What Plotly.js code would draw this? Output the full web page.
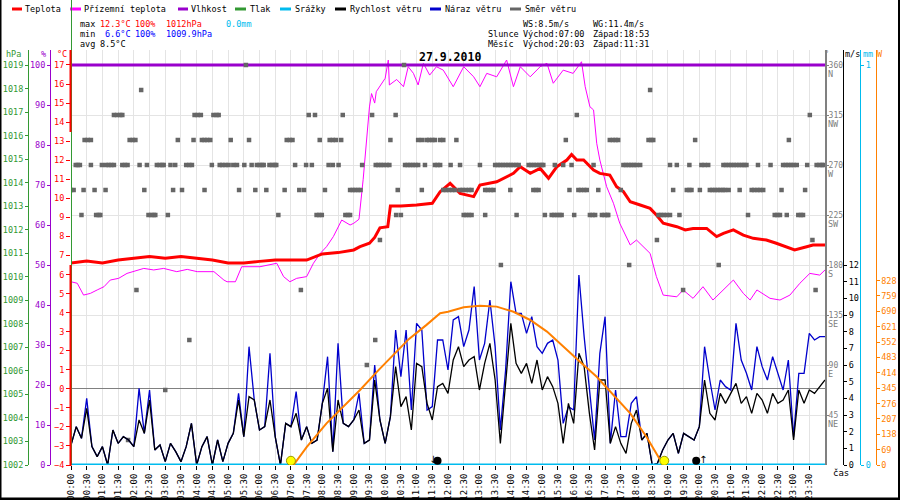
<!DOCTYPE html>
<html><head><meta charset="utf-8">
<script src="https://cdn.plot.ly/plotly-3.0.1.min.js"></script>
<style>html,body{margin:0;padding:0;background:#fff}#chart{width:900px;height:500px}</style>
</head><body><div id="chart"></div>
<script>
// ---------------- DATA ----------------
const timeLabels = ['00:00','00:30','01:00','01:30','02:00','02:30','03:00','03:30','04:00','04:30','05:00','05:30',
  '06:00','06:30','07:00','07:30','08:00','08:30','09:00','09:30','10:00','10:30','11:00','11:30',
  '12:00','12:30','13:00','13:30','14:00','14:30','15:00','15:30','16:00','16:30','17:00','17:30',
  '18:00','18:30','19:00','19:30','20:00','20:30','21:00','21:30','22:00','22:30','23:00','23:30'];

const tempTimes = ['00:00','00:30','01:00','01:30','02:00','02:30','03:00','03:30','04:00','04:30','05:00','05:30',
  '06:00','06:30','07:00','07:30','08:00','08:30','09:00','09:12','09:30','09:40','09:50','10:05','10:10','10:30',
  '11:00','11:30','11:45','12:04','12:23','12:49','13:01','13:33','14:05','14:18','14:37','14:56','15:12','15:28',
  '15:47','15:56','16:06','16:19','16:38','16:50','17:09','17:22','17:35','17:48','18:07','18:26','18:38','18:51',
  '19:17','19:33','19:48','20:14','20:33','20:46','21:05','21:24','21:43','22:08','22:27','22:46','23:02','23:25',
  '23:37','24:00'];
const tempValues = [6.6,6.71,6.6,6.76,6.85,6.94,6.85,6.94,6.85,6.76,6.6,6.6,
  6.69,6.76,6.76,6.76,7.08,7.15,7.29,7.46,7.64,7.95,8.45,8.51,9.6,9.6,
  9.65,9.74,10.35,10.79,10.26,10.09,10.7,10.87,11.31,11.66,11.31,11.57,11.05,11.66,
  12.01,12.3,12.01,12.01,11.49,11.31,11.22,10.61,10.35,9.82,9.65,9.47,9.12,8.69,
  8.51,8.34,8.42,8.42,7.99,8.16,8.34,8.07,7.9,7.81,7.64,7.46,7.29,7.46,
  7.55,7.55];

const groundTimes = ['00:00','00:12','00:24','00:37','00:50','01:03','01:15','01:31','01:47','02:00','02:19','02:38',
  '02:57','03:22','03:42','04:01','04:33','04:52','04:58','05:14','05:26','06:01','06:33','06:46','06:58','07:11',
  '07:30','07:43','07:56','08:08','08:21','08:37','08:53','09:00','09:10','09:18','09:24','09:30','09:34','09:40',
  '09:43','09:52','10:00','10:06','10:08','10:22','10:35','10:44','10:54','11:03','11:13','11:25','11:38','11:51',
  '12:10','12:30','12:49','13:01','13:14','13:33','13:52','14:05','14:18','14:37','14:56','15:09','15:21','15:40',
  '15:59','16:15','16:22','16:31','16:38','16:44','16:50','17:03','17:16','17:28','17:48','18:00','18:13','18:26',
  '18:38','18:51','19:17','19:29','19:48','20:07','20:26','20:46','21:05','21:24','21:37','21:50','22:15','22:34',
  '22:53','23:12','23:31','23:50','24:00'];
const groundValues = [5.62,5.54,4.92,5.01,5.19,5.36,5.71,5.8,6.06,6.15,6.32,6.24,
  6.32,6.15,6.27,6.15,6.15,5.71,5.62,5.62,6.41,6.41,6.59,5.89,5.62,5.8,
  5.89,6.59,7.11,7.46,7.99,8.86,8.6,8.69,8.9,11.0,13.0,14.8,15.5,15.0,
  15.6,15.95,16.3,17.26,15.95,16.24,15.86,16.91,16.56,15.95,17.09,16.47,16.91,16.73,
  15.86,16.91,16.38,15.86,16.56,16.38,17.26,15.86,16.91,16.38,16.91,17.09,16.04,16.73,
  16.56,17.17,15.86,14.81,14.64,12.89,12.01,10.61,9.74,8.69,7.55,7.81,7.46,7.11,
  5.89,4.92,4.83,5.19,4.75,5.36,4.66,5.19,5.71,5.01,4.66,5.19,4.75,4.66,
  4.92,5.54,6.06,5.97,6.24];

const humidityTimes = ['00:00','06:00','12:00','18:00','24:00'];
const humidityValues = [100,100,100,100,100];

const pressureTimes = [];   // pressure line not visible in the picture
const pressureValues = [];

const precipTimes = ['00:00','12:00','24:00'];
const precipValues = [0,0,0];

const windStepMin = 10;
const windSpeed = [
  1.2,2.3,1.6,3.4,1.1,0.5,1.1,0.0,2.1,1.3,
  1.7,1.5,1.1,2.7,1.9,3.9,0.9,1.2,0.2,1.3,
  0.8,0.2,1.1,2.5,0.0,1.1,1.7,0.0,1.5,0.2,
  1.3,1.9,3.9,1.7,4.1,3.9,2.1,2.3,3.9,1.7,
  0.0,2.5,2.3,3.1,1.5,2.3,1.3,1.5,3.7,4.6,
  0.8,3.9,2.5,2.3,2.7,3.3,1.3,1.5,5.1,2.7,
  1.3,2.9,5.9,3.5,4.1,2.1,6.1,5.9,3.7,2.7,
  4.7,4.9,4.3,6.3,7.1,5.9,6.3,6.5,4.5,6.1,
  7.3,5.1,1.3,5.1,8.5,6.1,5.5,6.1,4.9,6.3,
  4.5,5.3,4.7,3.7,1.3,3.7,2.5,6.7,5.9,3.1,
  0.9,5.1,5.1,1.3,2.3,1.3,0.7,2.5,3.3,1.5,
  1.9,0.0,0.1,0.9,1.5,1.9,0.7,1.9,1.7,1.5,
  2.3,5.1,3.1,2.7,4.3,3.7,4.3,4.9,3.7,4.1,
  3.1,4.3,3.9,3.1,4.3,3.7,3.9,4.5,1.5,4.5,
  3.7,4.5,4.3,4.7,5.1];
const windGust = [
  1.2,2.3,1.6,4.0,1.1,0.5,1.1,0.0,2.1,1.3,
  1.7,1.5,1.1,4.6,1.9,4.5,0.9,1.2,0.2,1.3,
  0.8,0.2,1.1,2.5,0.0,1.1,1.7,0.0,1.5,0.2,
  1.3,1.9,4.3,1.7,7.1,3.9,2.1,2.3,6.7,1.7,
  0.0,2.5,2.3,4.4,1.5,2.3,1.3,1.5,3.7,6.5,
  0.8,7.3,2.5,2.3,2.7,4.3,1.3,1.5,6.0,2.7,
  1.3,2.9,8.1,5.3,8.1,3.3,8.5,8.1,3.3,3.5,
  7.5,7.5,5.7,8.7,8.9,7.1,8.1,10.7,6.3,7.3,
  9.9,7.1,2.1,5.7,11.0,9.1,9.1,7.9,8.9,7.1,
  6.7,7.3,7.5,6.3,2.5,3.5,3.3,11.4,7.7,4.5,
  1.5,6.7,8.9,1.3,4.5,1.7,1.7,3.7,4.1,1.5,
  1.9,0.0,0.1,0.9,1.5,1.9,0.7,1.9,1.7,1.5,
  2.3,7.1,5.1,3.3,5.1,4.7,4.5,8.5,6.3,5.5,
  4.5,7.1,5.9,5.1,6.5,5.5,4.5,6.3,1.7,5.5,
  5.5,7.9,7.5,7.7,7.7];

// wind direction samples (minute of day) grouped by compass level (degrees)
const dirLevels = [360, 337.5, 315, 292.5, 270, 247.5, 225, 202.5, 180, 157.5, 112.5, 90, 67.5, 22.5];
const dirMinutesByLevel = [
  [334, 636],
  [134, 1106],
  [82,88,94,98,236,242,248,272,278,282,454,466,519,575,620,966,1411],
  [26,32,38,112,118,123,204,234,250,255,260,266,305,340,412,418,423,475,494,500,506,516,610,663,670,679,684,690,695,705,711,736,945,1029,1035,1040,1045,1103,1108,1112,1192,1371],
  [9,13,17,38,59,67,72,77,82,98,103,108,131,145,164,169,174,177,190,199,220,226,231,269,284,289,295,301,310,317,331,345,355,360,365,368,379,384,389,392,428,449,460,492,500,511,556,582,587,592,597,603,608,638,643,648,653,658,663,676,695,700,705,725,743,781,810,815,820,825,830,835,840,845,850,855,874,879,884,889,894,899,902,924,940,956,998,1055,1060,1065,1070,1075,1080,1087,1144,1157,1181,1204,1210,1217,1246,1251,1256,1261,1266,1271,1276,1281,1286,1290,1312,1336,1360,1365,1370,1375,1380,1386,1406,1424,1429,1434,1437],
  [0,5,24,45,66,140,195,212,255,321,352,373,408,436,445,485,533,538,543,548,553,624,670,711,716,722,728,734,743,748,754,760,765,791,796,802,807,839,883,888,893,952,969,974,980,985,1007,1050,1150,1176,1181,1185,1201,1220,1225,1230,1235,1240,1245,1249,1256,1277,1300,1305,1311,1316,1322,1357,1402],
  [20,48,53,56,148,153,158,161,185,396,469,474,479,524,529,533,621,630,750,755,760,765,791,851,905,918,923,928,933,937,961,991,996,1001,1014,1019,1024,1026,1122,1127,1132,1138,1144,1162,1293,1344,1349,1354,1367,1389,1394,1398],
  [590, 1119, 1416],
  [821, 1066, 1237],
  [125, 439, 1169, 1422],
  [226, 581],
  [565],
  [180],
  [109]
];

const sunTimes = ['07:05','07:30','08:08','08:40','09:12','09:45','10:15','10:45','11:19','11:45','12:00','12:30',
  '13:01','13:33','14:05','14:37','15:09','15:40','16:12','16:44','17:16','17:48','18:19','18:45','18:51'];
const sunWatts = [0,80,187,262,337,420,494,565,629,681,688,708,
  715,711,688,651,599,531,464,396,314,232,127,22,0];

const sunRise = '07:00', sunSet = '18:53', moonRise = '20:03', moonSet = '11:31';

const tempTicks = [-4,-3,-2,-1,0,1,2,3,4,5,6,7,8,9,10,11,12,13,14,15,16,17];
const humTicks = [0,10,20,30,40,50,60,70,80,90,100];
const pressTicks = [1002,1003,1004,1005,1006,1007,1008,1009,1010,1011,1012,1013,1014,1015,1016,1017,1018,1019];
const dirTicks = [45,90,135,180,225,270,315,360];
const dirNames = ['NE','E','SE','S','SW','W','NW','N'];
const msTicks = [0,1,2,3,4,5,6,7,8,9,10,11,12];
const mmTicks = [0,1];
const wattTicks = [0,69,138,207,276,345,414,483,552,621,690,759,828];

// ---------------- HELPERS ----------------
const W = 900, H = 500;
const px = x => x / W;
const py = y => 1 - y / H;
const tmin = s => { const p = s.split(':').map(Number); return p[0] * 60 + p[1]; };
const MONO = 'DejaVu Sans Mono, Liberation Mono, monospace';

const C = {
  temp: '#ff0000', ground: '#ff00ff', hum: '#9900cc', press: '#339933', precip: '#00bbee',
  wind: '#000000', gust: '#0000cc', dir: '#666666', sun: '#ff8000', grid: '#e4e4e4'
};

// ---------------- TRACES ----------------
const windX = windSpeed.map((_, i) => i * windStepMin);
const dirX = [], dirY = [];
dirLevels.forEach((lvl, i) => dirMinutesByLevel[i].forEach(m => { dirX.push(m); dirY.push(lvl); }));

const traces = [
  {name:'Přízemní teplota', x: groundTimes.map(tmin), y: groundValues, yaxis:'y', mode:'lines',
   line:{color:C.ground, width:1}, cliponaxis:false},
  {name:'Teplota', x: tempTimes.map(tmin), y: tempValues, yaxis:'y', mode:'lines',
   line:{color:C.temp, width:3}},
  {name:'Vlhkost', x: humidityTimes.map(tmin), y: humidityValues, yaxis:'y2', mode:'lines',
   line:{color:C.hum, width:3}},
  {name:'Tlak', x: pressureTimes.map(tmin), y: pressureValues, yaxis:'y3', mode:'lines',
   line:{color:C.press, width:2}},
  {name:'Směr větru', x: dirX, y: dirY, yaxis:'y4', mode:'markers',
   marker:{symbol:'square', size:4.5, color:C.dir}},
  {name:'Náraz větru', x: windX, y: windGust, yaxis:'y5', mode:'lines',
   line:{color:C.gust, width:1.3}},
  {name:'Rychlost větru', x: windX, y: windSpeed, yaxis:'y5', mode:'lines',
   line:{color:C.wind, width:1.3}},
  {name:'Srážky', x: precipTimes.map(tmin), y: precipValues, yaxis:'y6', mode:'lines',
   line:{color:C.precip, width:3}, cliponaxis:false},
  {name:'Slunce', x: sunTimes.map(tmin), y: sunWatts, yaxis:'y7', mode:'lines',
   line:{color:C.sun, width:2}},
  {name:'sun events', x: [tmin(sunRise), tmin(sunSet)], y:[19,19], yaxis:'y7', mode:'markers',
   marker:{color:'#ffff00', size:9, line:{color:'#999900', width:1}}},
  {name:'moon events', x: [tmin(moonSet) + 9, tmin(moonRise) - 9], y:[19,19], yaxis:'y7', mode:'markers',
   marker:{color:'#000000', size:8}}
];
traces.forEach(t => { t.xaxis = 'x'; t.showlegend = false; t.hoverinfo = 'skip'; });

// ---------------- LAYOUT ----------------
const tickFont = c => ({family: MONO, size: 8.5, color: c});
const yDomain = [py(465), py(50)];

const layout = {
  width: W, height: H,
  margin: {l:0, r:0, t:0, b:0},
  paper_bgcolor: '#ffffff', plot_bgcolor: '#ffffff',
  showlegend: false,
  xaxis: {
    domain: [px(71), px(825)], range: [0, 1440], fixedrange: true,
    tickmode: 'array', tickvals: timeLabels.map(tmin), ticktext: timeLabels,
    tickangle: -90, ticks: 'outside', ticklen: 4, tickcolor: '#000',
    tickfont: {family: MONO, size: 9, color: '#000'}, showgrid: true, gridcolor: C.grid, gridwidth: 1,
    showline: false, zeroline: false, automargin: false
  },
  yaxis: {
    domain: yDomain, range: [-4, 17.787], side: 'left', anchor: 'x',
    tickmode: 'array', tickvals: tempTicks, ticks: 'outside', ticklen: 4, tickcolor: C.temp,
    tickfont: tickFont(C.temp), showgrid: false, showline: false,
    zeroline: true, zerolinecolor: '#808080', zerolinewidth: 1, automargin: false
  },
  yaxis2: {
    domain: yDomain, overlaying: 'y', anchor: 'free', position: px(50), side: 'left',
    range: [0, 103.75], tickmode: 'array', tickvals: humTicks, ticks: 'outside', ticklen: 3,
    tickcolor: C.hum, tickfont: tickFont(C.hum), showgrid: false, zeroline: false,
    showline: true, linecolor: C.hum, linewidth: 1, automargin: false
  },
  yaxis3: {
    domain: yDomain, overlaying: 'y', anchor: 'free', position: px(28), side: 'left',
    range: [1002, 1019.6375], tickmode: 'array', tickvals: pressTicks, ticks: 'outside', ticklen: 3,
    tickcolor: C.press, tickfont: tickFont(C.press), showgrid: false, zeroline: false,
    showline: true, linecolor: C.press, linewidth: 1, automargin: false
  },
  yaxis4: {
    domain: yDomain, overlaying: 'y', anchor: 'x', side: 'right',
    range: [0, 373.5], tickmode: 'array', tickvals: dirTicks, ticks: 'outside', ticklen: 2,
    ticklabelstandoff: -2,
    tickcolor: '#808080', tickfont: {family: MONO, size: 8, color: '#808080'}, showgrid: true, gridcolor: C.grid,
    zeroline: false, showline: true, linecolor: '#808080', linewidth: 2, automargin: false
  },
  yaxis5: {
    domain: yDomain, overlaying: 'y', anchor: 'free', position: px(843), side: 'right',
    range: [0, 24.9], tickmode: 'array', tickvals: msTicks, ticks: 'outside', ticklen: 3,
    tickcolor: '#000', tickfont: tickFont('#000'), showgrid: false, zeroline: false,
    showline: true, linecolor: '#000', linewidth: 1, automargin: false
  },
  yaxis6: {
    domain: yDomain, overlaying: 'y', anchor: 'free', position: px(860), side: 'right',
    range: [0, 1.0375], tickmode: 'array', tickvals: mmTicks, ticks: 'outside', ticklen: 3,
    tickcolor: C.precip, tickfont: tickFont(C.precip), showgrid: false, zeroline: false,
    showline: true, linecolor: C.precip, linewidth: 1, automargin: false
  },
  yaxis7: {
    domain: yDomain, overlaying: 'y', anchor: 'free', position: px(875.5), side: 'right',
    range: [0, 1863], tickmode: 'array', tickvals: wattTicks, ticks: 'outside', ticklen: 3,
    tickcolor: C.sun, tickfont: tickFont(C.sun), showgrid: false, zeroline: false,
    showline: true, linecolor: C.sun, linewidth: 1, automargin: false
  },
  shapes: [], annotations: []
};

const ann = (text, x, y, color, opts) => Object.assign({
  text: text, x: px(x), y: py(y), xref: 'paper', yref: 'paper', showarrow: false,
  xanchor: 'left', yanchor: 'middle', font: {family: MONO, size: 8.5, color: color || '#000'},
  borderpad: 0
}, opts || {});
const hline = (x1, x2, y, color, w) => ({type:'line', xref:'paper', yref:'paper',
  x0: px(x1), x1: px(x2), y0: py(y), y1: py(y), line:{color: color, width: w}});
const vline = (x, y1, y2, color, w) => ({type:'line', xref:'paper', yref:'paper',
  x0: px(x), x1: px(x), y0: py(y1), y1: py(y2), line:{color: color, width: w}});

// legend row
const legendItems = [
  ['Teplota', C.temp, 12, 22, 24],
  ['Přízemní teplota', C.ground, 70, 81, 83],
  ['Vlhkost', C.hum, 178, 188, 190],
  ['Tlak', C.press, 235, 246, 248.5],
  ['Srážky', C.precip, 280, 291, 293.5],
  ['Rychlost větru', C.wind, 335, 346, 348.5],
  ['Náraz větru', C.gust, 430, 441, 443.5],
  ['Směr větru', C.dir, 510, 521, 524]
];
legendItems.forEach(it => {
  layout.shapes.push(hline(it[2], it[3], 9, it[1], 3));
  layout.annotations.push(ann(it[0], it[4], 9, '#000'));
});

// statistics block
const statRows = [
  [24.3, [['max',79,'#000'],['12.3°C',99,C.temp],['100%',134,C.temp],['1012hPa',165,C.temp],['0.0mm',225,C.precip],
          ['WS:8.5m/s',522,'#000'],['WG:11.4m/s',592,'#000']]],
  [34, [['min',79,'#000'],['6.6°C',104,'#0000ff'],['100%',134,'#0000ff'],['1009.9hPa',165,'#0000ff'],
        ['Slunce',487,'#000'],['Východ:' + sunRise,522,'#000'],['Západ:' + sunSet,592,'#000']]],
  [43.7, [['avg',79,'#000'],['8.5°C',99,'#000'],
          ['Měsíc',487,'#000'],['Východ:' + moonRise,522,'#000'],['Západ:' + moonSet,592,'#000']]]
];
statRows.forEach(r => r[1].forEach(c => layout.annotations.push(ann(c[0], c[1], r[0], c[2]))));

// title
layout.annotations.push(ann('<b>27.9.2010</b>', 449.5, 57, '#000',
  {xanchor:'center', font:{family: MONO, size: 11.5, color:'#000'}}));

// axis headers
[['hPa', 13, C.press], ['%', 43, C.hum], ['°C', 62, C.temp], ['°', 826, '#808080'],
 ['m/s', 852, '#000'], ['mm', 867.5, C.precip], ['W', 879.5, C.sun]].forEach(h =>
  layout.annotations.push(ann(h[0], h[1], 54, h[2], {xanchor:'center'})));

// compass names under direction tick values
dirTicks.forEach((d, i) => layout.annotations.push({
  text: dirNames[i], x: px(827), xref: 'paper', y: d, yref: 'y4', yshift: -9,
  xanchor: 'left', yanchor: 'middle', showarrow: false, borderpad: 0,
  font: {family: MONO, size: 8.5, color: '#808080'}
}));

// moon arrows and "čas"
layout.annotations.push(ann('↓', 432.5, 459, '#000', {xanchor:'center', font:{family:'DejaVu Sans', size:10, color:'#000'}}));
layout.annotations.push(ann('↑', 703, 459, '#000', {xanchor:'center', font:{family:'DejaVu Sans', size:10, color:'#000'}}));
layout.annotations.push(ann('čas', 832, 473, '#000', {font:{family: MONO, size: 9, color:'#000'}}));

// temperature axis line (red) over a green guide line, as in the original
layout.shapes.push(vline(71.5, 0, 465, C.press, 1));
layout.shapes.push(vline(70.5, 50, 132, C.temp, 2));
layout.shapes.push(vline(70.5, 265, 466, C.temp, 2));
// image frame
layout.shapes.push(vline(0.5, 0, 500, '#000', 2));
layout.shapes.push(vline(899, 0, 500, '#000', 2));
layout.shapes.push(hline(0, 900, 499, '#000', 3));

Plotly.newPlot('chart', traces, layout, {staticPlot: true, displayModeBar: false});
</script></body></html>
